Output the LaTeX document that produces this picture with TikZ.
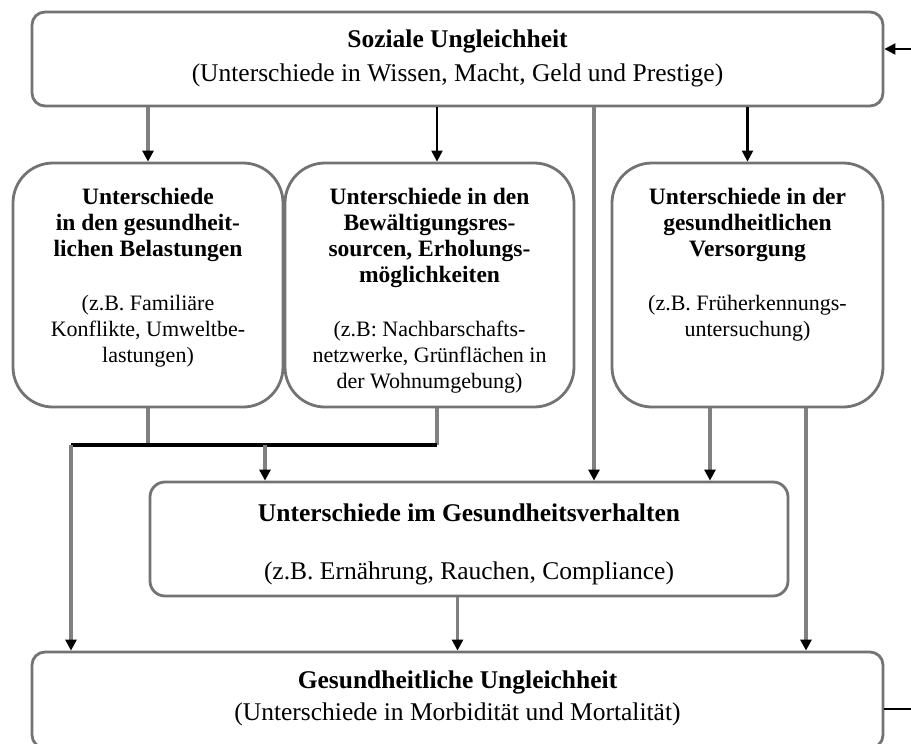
\documentclass[tikz,border=0pt]{standalone}
\usepackage{fontspec}
\setmainfont{Liberation Serif}
\usetikzlibrary{arrows.meta,positioning}
\newcommand\headline[1]{{\fontsize{23.5}{26}\selectfont\bfseries #1}}
\tikzset{
  frame/.style={draw=black!55, line width=2.8pt, fill=white, inner sep=0pt, align=center},
  wire/.style={draw=black!50, line width=3.4pt},
  darkwire/.style={draw=black, line width=2.2pt},
  tipped/.style={-{Triangle[length=11pt,width=11pt,color=black]}},
  boxtext/.style={align=center, inner sep=0pt, font=\fontsize{22}{26}\selectfont},
  bigtext/.style={font=\fontsize{25.5}{35}\selectfont},
}

\begin{document}
\begin{tikzpicture}[x=1pt,y=-1pt]
  \useasboundingbox (0,0) rectangle (911,744);
  %%%%% BOXES %%%%%
  \node[frame, bigtext, rounded corners=13pt, minimum width=851, minimum height=94] (sozial) at (457.5,59)
    {\textbf{Soziale Ungleichheit}\\[-1pt](Unterschiede in Wissen, Macht, Geld und Prestige)\rule[-7pt]{0pt}{7pt}};

  \node[frame, rounded corners=40pt, minimum width=270, minimum height=244] (belast) at (148,285) {};
  \node[boxtext, below=26pt of belast.north] (belasttext)
    {\headline{Unterschiede}\\\headline{in den gesundheit-}\\\headline{lichen Belastungen}\\[28pt]
     (z.B. Familiäre\\Konflikte, Umweltbe-\\lastungen)};

  \node[frame, rounded corners=40pt, minimum width=289, minimum height=244] (bewaelt) at (429.5,285) {};
  \node[boxtext, below=26pt of bewaelt.north] (bewaelttext)
    {\headline{Unterschiede in den}\\\headline{Bewältigungsres-}\\\headline{sourcen, Erholungs-}\\\headline{möglichkeiten}\\[28pt]
     (z.B: Nachbarschafts-\\netzwerke, Grünflächen in\\der Wohnumgebung)};

  \node[frame, rounded corners=40pt, minimum width=271, minimum height=244] (versorg) at (747.5,285) {};
  \node[boxtext, below=26pt of versorg.north] (versorgtext)
    {\headline{Unterschiede in der}\\\headline{gesundheitlichen}\\\headline{Versorgung}\\[28pt]
     (z.B. Früherkennungs-\\untersuchung)};

  \node[frame, bigtext, rounded corners=15pt, minimum width=638, minimum height=114] (verhalten) at (469,539)
    {\rule{0pt}{28pt}\textbf{Unterschiede im Gesundheitsverhalten}\\[23pt](z.B. Ernährung, Rauchen, Compliance)};

  \node[frame, bigtext, rounded corners=13pt, minimum width=851, minimum height=96] (gesund) at (457.5,700)
    {\textbf{Gesundheitliche Ungleichheit}\\[-3pt](Unterschiede in Morbidität und Mortalität)\rule[-8pt]{0pt}{8pt}};

  %%%%% HELPERS %%%%%
  \coordinate (knot) at (71,445);
  \coordinate (col2) at (437,0);
  \coordinate (col3) at (594,0);
  \coordinate (col4) at (265,0);
  \coordinate (col5) at (710,0);
  \coordinate (col6) at (806,0);
  \coordinate (inR) at (911,49);
  \coordinate (outR) at (911,709);

  %%%%% CONNECTORS %%%%%
  \draw[wire, tipped] (sozial.south -| belast) -- (belast.north);
  \draw[darkwire, tipped] (sozial.south -| col2) -- (bewaelt.north -| col2);
  \draw[wire, tipped] (sozial.south -| col3) -- (verhalten.north -| col3);
  \draw[darkwire, tipped] (sozial.south -| versorg) -- (versorg.north);

  \draw[wire] (belast.south) -- (belast.south |- knot);
  \draw[wire] (bewaelt.south -| col2) -- (knot -| col2);
  \draw[darkwire, line width=3.2pt] (knot) -- (knot -| col2);
  \draw[wire, tipped] (knot) -- (gesund.north -| knot);
  \draw[wire, tipped] (knot -| col4) -- (verhalten.north -| col4);

  \draw[wire, tipped] (versorg.south -| col5) -- (verhalten.north -| col5);
  \draw[wire, tipped] (versorg.south -| col6) -- (gesund.north -| col6);
  \draw[wire, tipped] (verhalten.south -| gesund) -- (gesund.north);

  \draw[darkwire, tipped] (inR) -- (inR -| sozial.east);
  \draw[darkwire] (gesund.east |- outR) -- (outR);
\end{tikzpicture}
\end{document}
